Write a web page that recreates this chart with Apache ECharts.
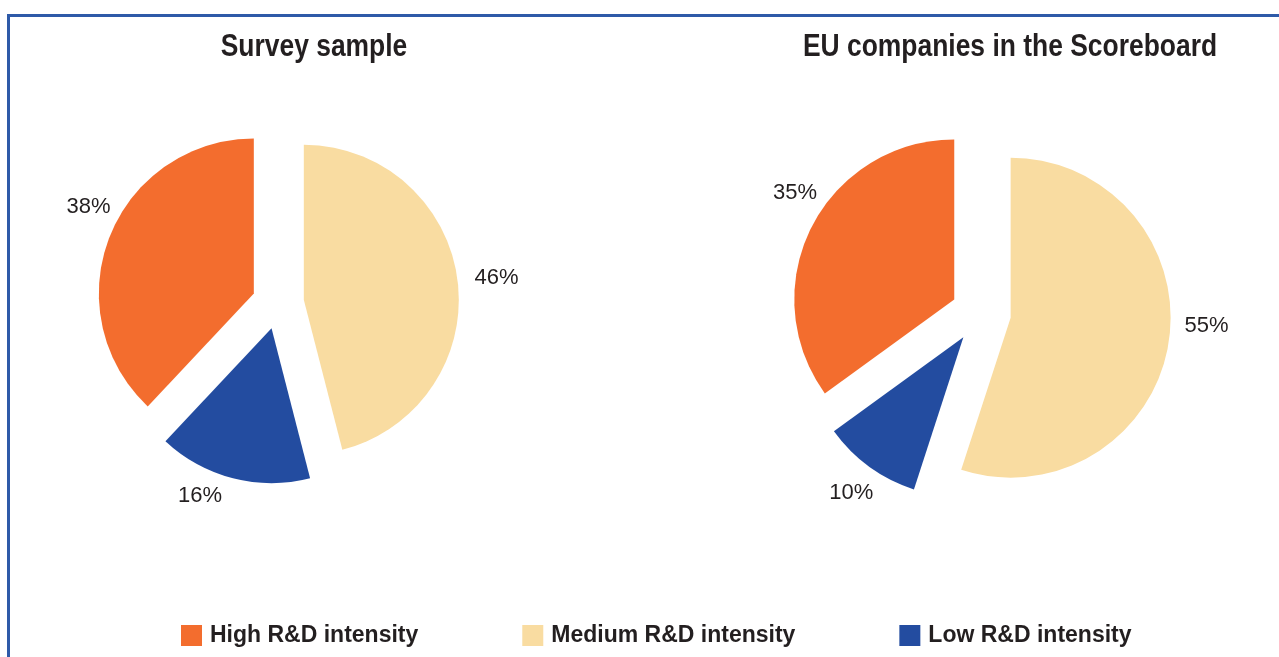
<!DOCTYPE html>
<html>
<head>
<meta charset="utf-8">
<script src="https://cdn.jsdelivr.net/npm/echarts@6/dist/echarts.min.js"></script>
<style>
  html, body { margin: 0; padding: 0; background: #ffffff; }
  #chart { width: 1279px; height: 657px; }
</style>
</head>
<body>
<div id="chart"></div>
<script>
// R&D intensity class shares (%)
const categories = ['High R&D intensity', 'Medium R&D intensity', 'Low R&D intensity'];
const surveySample = [38, 46, 16];
const euScoreboard = [35, 55, 10];
const panelTitles = ['Survey sample', 'EU companies in the Scoreboard'];

const palette = ['#F36D2E', '#F9DCA1', '#234CA0'];
// slices run clockwise from 12 o'clock: medium, low, high
const drawOrder = [1, 2, 0];
const FONT = '"Liberation Sans", Arial, sans-serif';
const TEXT = '#231f20';
const FRAME = '#2E5AA8';

function pieData(values) {
  return drawOrder.map(i => ({
    name: categories[i],
    value: values[i],
    selected: true,
    itemStyle: { color: palette[i] }
  }));
}

function pieSeries(values, center, radius, offset, nudges) {
  return {
    type: 'pie',
    center: center,
    radius: radius,
    startAngle: 90,
    clockwise: true,
    selectedMode: 'multiple',
    selectedOffset: offset,
    avoidLabelOverlap: false,
    emphasis: { disabled: true },
    select: { itemStyle: { borderWidth: 0 } },
    itemStyle: { borderWidth: 0 },
    label: {
      show: true,
      position: 'outside',
      formatter: '{c}%',
      color: TEXT,
      fontFamily: FONT,
      fontSize: 22,
      distanceToLabelLine: 5
    },
    labelLine: { show: false, length: 12, length2: 0 },
    labelLayout: p => ({ dx: nudges[p.dataIndex][0], dy: nudges[p.dataIndex][1] }),
    data: pieData(values)
  };
}

// condensed bold panel headings
function heading(text, cx) {
  return {
    type: 'text', x: cx, y: 47, scaleX: 0.826, silent: true,
    style: { text: text, font: 'bold 32px ' + FONT, fill: TEXT, align: 'center', verticalAlign: 'middle' }
  };
}

const chart = echarts.init(document.getElementById('chart'), null, { renderer: 'canvas' });

chart.setOption({
  backgroundColor: '#ffffff',
  animation: false,
  legend: {
    data: categories,
    left: 181,
    top: 624,
    padding: 0,
    icon: 'rect',
    itemWidth: 21,
    itemHeight: 21,
    itemGap: 104,
    selectedMode: false,
    textStyle: { fontFamily: FONT, fontSize: 23, fontWeight: 'bold', color: TEXT, padding: [0, 0, 0, 3] }
  },
  graphic: [
    { type: 'rect', shape: { x: 8, y: 14, width: 1271, height: 3 }, style: { fill: FRAME }, silent: true },
    { type: 'rect', shape: { x: 7, y: 14, width: 3, height: 643 }, style: { fill: FRAME }, silent: true },
    heading(panelTitles[0], 314),
    heading(panelTitles[1], 1010)
  ],
  series: [
    pieSeries(surveySample, [278, 303], 155, 26, [[0, -1], [-3, 6], [17, -25]]),
    pieSeries(euScoreboard, [981, 313], 160, 30, [[-1, -19], [16, 17], [21, -28]])
  ]
});
</script>
</body>
</html>
